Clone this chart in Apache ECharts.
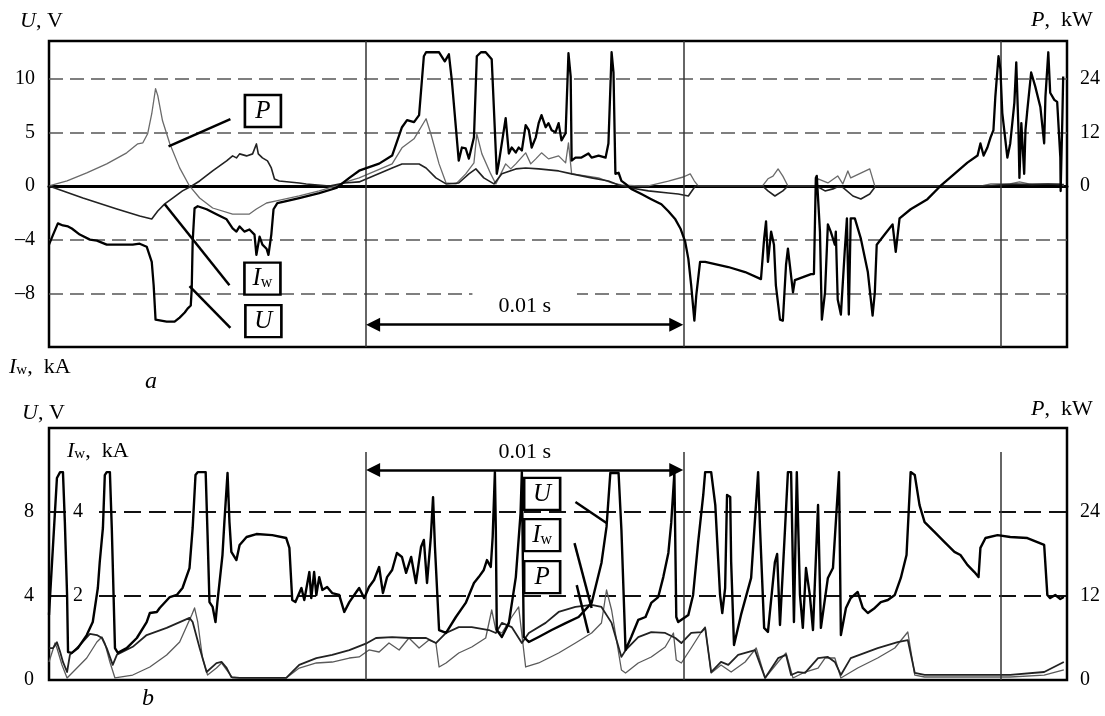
<!DOCTYPE html>
<html><head><meta charset="utf-8">
<script src="https://cdn.jsdelivr.net/npm/echarts@6/dist/echarts.min.js"></script>
<style>html,body{margin:0;padding:0;background:#fff}#c{width:1105px;height:716px}</style>
</head><body><div id="c"></div>
<script>
const FONT = '"Liberation Serif","Times New Roman",serif';
// time axis in ms; markers every 10 ms, arrow spans 0.01 s
const timeRange = [0, 32.1];
const markerTimes = [10, 20, 30];
const spanTimes = [10, 20];
const spanLabel = '0.01 s';

// ---------- panel a ----------  [t (ms), value]
const aU = [[0,-5.47],[0.13,-4.53],[0.28,-3.49],[0.44,-3.68],[0.60,-3.77],[0.72,-3.96],[0.97,-4.53],[1.29,-5.0],[1.51,-5.09],[1.82,-5.47],[2.23,-5.47],[2.64,-5.47],[2.86,-5.38],[3.08,-5.66],[3.24,-7.08],[3.30,-9.25],[3.36,-12.45],[3.71,-12.64],[3.96,-12.64],[4.12,-12.26],[4.28,-11.79],[4.37,-11.42],[4.47,-11.13],[4.50,-9.62],[4.53,-5.19],[4.59,-2.08],[4.69,-1.89],[4.97,-2.17],[5.28,-2.64],[5.60,-3.11],[5.79,-3.96],[5.91,-4.25],[6.01,-3.77],[6.16,-4.25],[6.32,-4.06],[6.48,-4.53],[6.54,-6.42],[6.64,-4.72],[6.73,-5.47],[6.86,-5.85],[6.92,-6.42],[7.01,-4.53],[7.08,-2.17],[7.20,-1.60],[7.48,-1.42],[7.89,-1.13],[8.52,-0.66],[9.06,-0.19],[9.47,0.75],[9.78,1.42],[10.41,2.08],[10.82,2.83],[11.13,5.47],[11.29,6.13],[11.51,5.94],[11.67,6.60],[11.82,12.08],[11.89,12.45],[12.30,12.45],[12.48,11.6],[12.61,12.26],[12.70,9.9],[12.92,2.36],[13.02,3.58],[13.14,3.49],[13.24,2.55],[13.40,4.53],[13.49,12.08],[13.62,12.45],[13.77,12.45],[13.96,11.79],[14.12,1.13],[14.18,2.08],[14.40,6.32],[14.50,3.02],[14.59,3.58],[14.72,3.11],[14.81,3.58],[14.91,3.30],[15.03,5.66],[15.13,5.19],[15.22,3.58],[15.35,4.53],[15.44,5.85],[15.53,6.60],[15.66,5.47],[15.75,5.85],[15.85,5.19],[15.97,5.0],[16.07,5.85],[16.16,4.25],[16.29,4.91],[16.38,12.36],[16.45,10.19],[16.48,2.36],[16.60,2.64],[16.79,2.64],[17.01,3.02],[17.11,2.64],[17.33,2.83],[17.55,2.64],[17.64,3.96],[17.74,12.45],[17.80,10.57],[17.86,1.13],[17.96,1.23],[18.05,0.47],[18.18,0.19],[18.36,-0.28],[18.68,-0.75],[18.99,-1.23],[19.31,-1.70],[19.53,-2.36],[19.75,-3.11],[19.91,-3.96],[20.06,-5.19],[20.16,-6.79],[20.25,-9.25],[20.35,-12.55],[20.41,-10.19],[20.53,-7.08],[20.69,-7.08],[21.42,-7.55],[21.95,-8.02],[22.45,-8.68],[22.55,-4.91],[22.61,-3.30],[22.67,-7.08],[22.77,-4.25],[22.86,-5.47],[22.92,-9.25],[23.05,-12.45],[23.14,-12.55],[23.24,-7.36],[23.30,-5.85],[23.36,-7.36],[23.46,-9.91],[23.52,-8.77],[24.03,-8.21],[24.12,-8.21],[24.18,0.75],[24.21,0.94],[24.31,-4.25],[24.37,-12.45],[24.47,-9.91],[24.56,-3.58],[24.65,-4.25],[24.78,-5.47],[24.81,-4.25],[24.87,-10.57],[24.97,-11.98],[25.09,-6.13],[25.16,-3.02],[25.22,-11.98],[25.28,-3.02],[25.41,-3.02],[25.60,-4.91],[25.82,-8.02],[25.97,-12.08],[26.04,-9.91],[26.10,-5.47],[26.35,-4.53],[26.60,-3.58],[26.70,-6.13],[26.82,-3.02],[27.17,-2.17],[27.70,-1.23],[28.11,0],[28.55,1.13],[28.96,2.17],[29.28,2.83],[29.37,3.96],[29.47,2.83],[29.59,3.58],[29.69,4.53],[29.78,5.19],[29.84,8.30],[29.94,12.08],[30.0,10.85],[30.06,6.79],[30.22,2.64],[30.31,3.96],[30.44,7.74],[30.50,11.51],[30.57,5.19],[30.60,0.75],[30.66,5.85],[30.75,1.13],[30.79,5.19],[30.85,7.08],[30.97,10.57],[31.10,9.25],[31.26,7.36],[31.38,3.96],[31.42,8.30],[31.51,12.45],[31.57,8.68],[31.70,8.02],[31.79,7.83],[31.89,2.64],[31.90,-0.47],[31.95,5.85],[31.98,10.19]];
const aI = [[0,0],[1.07,-0.90],[2.14,-1.72],[2.86,-2.24],[3.24,-2.46],[3.43,-1.87],[3.65,-1.34],[3.90,-0.90],[4.21,-0.37],[4.50,0],[4.75,0.37],[5.16,1.12],[5.60,1.87],[5.79,2.24],[5.91,2.09],[6.01,2.39],[6.23,2.24],[6.42,2.39],[6.54,3.13],[6.60,2.39],[6.73,2.09],[6.89,1.87],[7.01,1.34],[7.11,0.52],[7.26,0.37],[7.89,0.22],[8.11,0.15],[8.84,0],[9.31,0.22],[9.78,0.3],[10.82,1.34],[11.13,1.64],[11.67,1.64],[11.89,1.34],[12.20,0.60],[12.52,0.15],[12.92,0.22],[13.24,0.90],[13.46,1.27],[13.71,0.60],[14.03,0.15],[14.28,0.90],[14.72,1.27],[15.03,1.34],[15.44,1.27],[16.07,1.12],[16.48,0.90],[17.11,0.60],[17.64,0.37],[17.96,0.07],[18.36,-0.15],[18.9,-0.37],[19.53,-0.52],[19.84,-0.60],[20.16,-0.75],[20.38,0],[22.5,0],[22.67,-0.37],[22.89,-0.75],[23.14,-0.37],[23.3,0],[24.2,0],[24.47,-0.37],[24.72,-0.22],[24.87,-0.07],[25.03,-0.1],[25.35,-0.75],[25.6,-0.97],[25.88,-0.6],[26.07,0],[29.5,0],[29.9,0.07],[30.5,0.15],[31.0,0.1],[31.5,0.15],[31.9,0.1],[32,0.1]];
const aP = [[0,0],[0.57,1.12],[1.19,2.91],[1.82,4.93],[2.45,7.40],[2.80,9.42],[2.96,9.64],[3.11,11.66],[3.24,16.14],[3.36,21.75],[3.43,20.18],[3.58,14.57],[3.81,9.42],[4.12,4.04],[4.43,0],[4.75,-2.69],[5.16,-4.93],[5.79,-6.28],[6.32,-6.28],[6.54,-5.16],[6.86,-3.81],[7.17,-3.36],[7.89,-2.24],[8.52,-1.12],[9.06,0],[9.47,1.12],[9.78,1.79],[10.82,4.93],[11.13,8.52],[11.51,10.54],[11.89,15.02],[12.04,11.66],[12.30,4.93],[12.52,0.67],[12.83,0.45],[13.14,2.69],[13.40,5.16],[13.49,11.66],[13.65,7.17],[13.93,2.69],[14.09,0.45],[14.40,4.93],[14.56,3.81],[14.72,4.93],[15.03,7.40],[15.19,4.93],[15.35,6.05],[15.53,7.40],[15.75,6.05],[16.07,6.73],[16.29,5.16],[16.38,9.64],[16.48,2.69],[16.92,2.24],[17.33,1.79],[17.74,0.67],[18.05,0.22],[18.58,0],[18.9,0],[19.53,1.1],[20.0,2.0],[20.22,2.7],[20.35,1.1],[20.47,0],[22.5,0],[22.67,1.6],[22.83,2.2],[22.99,3.8],[23.14,2.2],[23.3,0],[24.18,0],[24.25,1.6],[24.56,0.67],[24.87,2.24],[25.03,0.45],[25.19,3.36],[25.28,1.79],[25.88,3.81],[26.04,0],[29.4,0],[29.7,0.45],[30.3,0.45],[30.6,0.9],[30.9,0.45],[31.5,0.45],[31.9,0.45],[32,0]];

// ---------- panel b ----------
const bU = [[0,3.10],[0.25,9.62],[0.35,9.90],[0.44,9.90],[0.50,7.52],[0.57,4.05],[0.60,1.33],[0.72,1.29],[0.91,1.52],[1.19,2.14],[1.38,2.76],[1.54,4.38],[1.60,5.62],[1.70,7.24],[1.76,9.76],[1.82,9.90],[1.92,9.90],[1.98,7.24],[2.08,1.52],[2.17,1.29],[2.45,1.52],[2.77,2.0],[3.08,2.76],[3.18,3.19],[3.40,3.24],[3.49,3.43],[3.81,3.95],[4.03,4.05],[4.21,4.38],[4.43,5.33],[4.53,7.24],[4.62,9.76],[4.69,9.90],[4.94,9.90],[5.0,6.90],[5.06,3.71],[5.16,3.48],[5.25,2.76],[5.31,3.71],[5.47,5.95],[5.53,7.52],[5.63,9.86],[5.69,7.52],[5.75,6.10],[5.91,5.71],[6.01,6.43],[6.23,6.81],[6.54,6.95],[7.04,6.90],[7.48,6.76],[7.58,6.29],[7.67,3.81],[7.77,3.71],[7.96,4.38],[8.05,3.81],[8.21,5.14],[8.27,3.90],[8.36,5.14],[8.43,4.05],[8.52,4.90],[8.62,4.29],[8.77,4.43],[8.93,4.14],[9.15,4.05],[9.31,3.24],[9.47,3.71],[9.69,4.19],[9.78,4.38],[9.94,3.90],[10.09,4.43],[10.25,4.76],[10.41,5.38],[10.53,4.14],[10.66,4.90],[10.82,5.24],[10.97,6.05],[11.13,5.86],[11.26,5.10],[11.42,5.86],[11.57,4.62],[11.73,6.33],[11.82,6.67],[11.92,4.62],[12.04,6.81],[12.11,8.71],[12.17,6.33],[12.30,2.38],[12.52,2.24],[12.83,3.0],[13.14,3.67],[13.40,4.62],[13.55,4.90],[13.71,5.24],[13.81,5.71],[13.93,5.38],[13.99,6.81],[14.06,9.90],[14.09,7.14],[14.12,2.38],[14.28,2.05],[14.50,2.71],[14.72,4.90],[14.87,7.95],[14.91,9.90],[14.94,9.90],[14.97,2.05],[15.13,1.81],[15.44,2.05],[15.85,2.38],[16.29,2.71],[16.70,3.0],[17.11,3.67],[17.42,5.57],[17.58,7.29],[17.70,9.86],[17.96,9.86],[18.05,7.14],[18.18,1.43],[18.36,2.05],[18.58,2.86],[18.81,3.0],[18.99,3.67],[19.21,3.95],[19.37,4.90],[19.53,6.05],[19.62,7.48],[19.72,9.86],[19.78,3.0],[19.84,2.76],[20.16,3.10],[20.31,4.05],[20.47,6.57],[20.63,8.81],[20.69,9.90],[20.88,9.90],[21.01,8.33],[21.16,4.05],[21.23,3.19],[21.32,4.38],[21.38,8.81],[21.48,8.71],[21.51,5.62],[21.60,1.67],[21.82,3.10],[22.14,4.86],[22.36,9.90],[22.42,7.24],[22.55,2.48],[22.67,2.29],[22.89,5.62],[22.96,6.0],[23.05,2.62],[23.21,7.24],[23.30,9.90],[23.40,9.90],[23.49,2.76],[23.58,9.90],[23.68,4.05],[23.77,2.48],[23.87,5.33],[23.99,4.05],[24.09,2.38],[24.25,8.33],[24.34,2.48],[24.40,2.48],[24.56,4.86],[24.72,5.33],[24.91,9.90],[24.97,2.14],[25.13,3.43],[25.28,3.90],[25.50,4.19],[25.66,3.43],[25.82,3.19],[26.04,3.43],[26.23,3.71],[26.45,3.81],[26.67,4.05],[26.86,4.86],[27.04,5.95],[27.17,9.90],[27.30,9.76],[27.45,8.33],[27.61,7.52],[27.92,7.05],[28.24,6.57],[28.55,6.10],[28.74,5.95],[28.96,5.48],[29.18,5.14],[29.31,4.90],[29.37,6.29],[29.53,6.76],[29.91,6.90],[30.31,6.81],[30.85,6.76],[31.38,6.43],[31.48,4.05],[31.57,3.90],[31.73,4.05],[31.89,3.86],[32.0,3.95]];
const bI = [[0,0.76],[0.13,0.76],[0.25,0.90],[0.35,0.67],[0.44,0.43],[0.57,0.19],[0.66,0.60],[0.97,0.83],[1.29,1.10],[1.51,1.07],[1.67,1.0],[1.82,0.76],[2.01,0.36],[2.14,0.60],[2.64,0.79],[3.08,1.07],[3.71,1.24],[4.43,1.48],[4.53,1.38],[4.75,0.76],[4.97,0.19],[5.28,0.40],[5.44,0.43],[5.60,0.29],[5.75,0.07],[6.01,0.05],[7.48,0.05],[7.89,0.36],[8.43,0.52],[8.93,0.60],[9.47,0.71],[10.03,0.88],[10.31,1.0],[10.82,1.02],[11.35,1.0],[11.89,1.0],[12.20,0.88],[12.52,1.12],[12.92,1.26],[13.33,1.26],[13.87,1.19],[14.09,1.12],[14.28,1.36],[14.59,1.26],[14.91,0.88],[15.13,1.12],[15.66,1.36],[16.07,1.62],[16.60,1.74],[17.11,1.79],[17.42,1.74],[17.74,1.36],[18.05,0.55],[18.18,0.71],[18.58,1.02],[18.99,1.14],[19.43,1.12],[19.75,1.0],[19.94,0.88],[20.25,1.12],[20.57,1.14],[20.69,1.24],[20.88,0.19],[21.19,0.43],[21.42,0.36],[21.73,0.60],[22.26,0.71],[22.58,0.05],[22.99,0.52],[23.24,0.60],[23.40,0.12],[23.62,0.19],[23.84,0.17],[24.25,0.52],[24.56,0.55],[24.78,0.43],[24.97,0.12],[25.28,0.52],[26.13,0.76],[26.76,0.90],[27.08,0.95],[27.30,0.17],[27.61,0.12],[30.31,0.12],[31.38,0.19],[32.0,0.43]];
const bP = [[0,2.57],[0.19,5.29],[0.25,4.57],[0.41,2.14],[0.57,0.29],[0.88,1.71],[1.19,3.14],[1.51,5.43],[1.67,6.14],[1.76,5.29],[1.92,2.57],[2.08,0.29],[2.64,0.71],[3.18,1.86],[3.71,3.57],[4.12,5.43],[4.50,9.29],[4.59,10.29],[4.69,8.29],[4.84,3.14],[5.0,0.71],[5.28,1.71],[5.44,2.43],[5.60,1.43],[5.79,0.29],[7.48,0.29],[7.89,1.71],[8.43,2.43],[8.93,2.57],[9.47,3.14],[9.78,3.29],[10.09,4.29],[10.41,4.0],[10.72,5.29],[11.04,4.29],[11.35,6.0],[11.67,4.57],[11.98,5.71],[12.20,5.29],[12.30,1.86],[12.52,2.43],[12.92,3.86],[13.33,4.71],[13.77,6.0],[13.96,10.0],[14.09,7.14],[14.28,6.71],[14.59,9.0],[14.81,10.43],[15.03,1.86],[15.44,2.43],[16.07,3.86],[16.60,5.29],[17.11,6.71],[17.42,8.14],[17.58,12.86],[17.74,10.0],[18.05,1.43],[18.18,1.0],[18.58,2.43],[18.99,3.29],[19.43,4.71],[19.69,6.71],[19.78,2.86],[19.94,2.43],[20.25,4.57],[20.57,6.86],[20.69,7.57],[20.88,1.0],[21.19,2.14],[21.51,1.14],[21.95,2.57],[22.30,4.57],[22.58,0.29],[22.99,2.57],[23.24,3.86],[23.46,0.29],[23.84,1.14],[24.25,1.71],[24.47,3.14],[24.78,3.14],[24.97,0.29],[25.50,1.71],[26.13,3.14],[26.67,4.57],[27.08,6.86],[27.30,0.71],[27.61,0.43],[30.31,0.43],[31.38,0.71],[32.0,1.43]];

// axis ranges (U in V, I in kA, P in kW)
const aRangeU = [-15, 13.5], aRangeI = [-12, 10.8], aRangeP = [-36, 32.4];
const bRangeU = [0, 12], bRangeI = [0, 6], bRangeP = [0, 36];
const kAperV = 4 / 5;

const GRID_W = 1105 - 49 - 38;
const ARROW = 14;
const tipShift = (ARROW / 2) * (timeRange[1] - timeRange[0]) / GRID_W;

const rich = {
  i: {fontFamily: FONT, fontStyle: 'italic', fontSize: 22, lineHeight: 22, verticalAlign: 'bottom', color: '#000'},
  s: {fontFamily: FONT, fontSize: 15, lineHeight: 15, verticalAlign: 'bottom', color: '#000'},
  n: {fontFamily: FONT, fontSize: 22, lineHeight: 22, verticalAlign: 'bottom', color: '#000'}
};
const boxRich = {
  i: {fontFamily: FONT, fontStyle: 'italic', fontSize: 25, lineHeight: 25, verticalAlign: 'bottom', color: '#000'},
  s: {fontFamily: FONT, fontSize: 16, lineHeight: 16, verticalAlign: 'bottom', color: '#000'}
};
function box(coord, txt) {
  return {coord, symbol: 'rect', symbolSize: [36, 32],
    itemStyle: {color: '#fff', borderColor: '#000', borderWidth: 2.5},
    label: {show: true, position: 'inside', formatter: txt, rich: boxRich}};
}
function seg(a, b) { return [{coord: a}, {coord: b}]; }
function arrow(y) {
  return [{coord: [spanTimes[0] + tipShift, y], symbol: 'triangle', symbolSize: ARROW,
      lineStyle: {width: 2.5, color: '#000'},
      label: {show: true, position: 'insideMiddleTop', formatter: spanLabel, fontFamily: FONT, fontSize: 22,
        color: '#000', backgroundColor: '#fff', padding: [6, 26, 2, 26], distance: 5}},
    {coord: [spanTimes[1] - tipShift, y], symbol: 'triangle', symbolSize: ARROW}];
}
const lbl = {fontFamily: FONT, fontSize: 20, color: '#000'};
const sp = '\u2002';

const chart = echarts.init(document.getElementById('c'), null, {renderer: 'canvas'});
chart.setOption({
  animation: false,
  backgroundColor: '#fff',
  grid: [
    {left: 49, right: 38, top: 41, height: 306, show: true, borderColor: '#000', borderWidth: 2.5},
    {left: 49, right: 38, top: 428, height: 252, show: true, borderColor: '#000', borderWidth: 2.5}
  ],
  xAxis: [
    {gridIndex: 0, type: 'value', min: timeRange[0], max: timeRange[1], axisLine: {onZero: true, lineStyle: {color: '#000', width: 3}},
      axisTick: {show: false}, axisLabel: {show: false}, splitLine: {show: false}},
    {gridIndex: 1, type: 'value', min: timeRange[0], max: timeRange[1], axisLine: {show: false},
      axisTick: {show: false}, axisLabel: {show: false}, splitLine: {show: false}}
  ],
  yAxis: [
    {gridIndex: 0, type: 'value', position: 'left', min: aRangeU[0], max: aRangeU[1], interval: 5,
      axisLine: {show: false}, axisTick: {show: false},
      axisLabel: Object.assign({margin: 14, formatter: v => {
        if (v === 0) return '0';
        if (v > 0 && v < aRangeU[1]) return String(v);
        if (v < 0 && v > aRangeU[0]) return '\u2013' + Math.round(-v * kAperV);
        return '';
      }}, lbl),
      splitLine: {show: true, showMinLine: false, showMaxLine: false, lineStyle: {type: [14, 7], color: '#555', width: 1.5}}},
    {gridIndex: 0, type: 'value', show: false, min: aRangeI[0], max: aRangeI[1]},
    {gridIndex: 0, type: 'value', position: 'right', min: aRangeP[0], max: aRangeP[1], interval: 12,
      axisLine: {show: false}, axisTick: {show: false}, splitLine: {show: false},
      axisLabel: Object.assign({margin: 13, formatter: v => (v >= 0 && v < aRangeP[1]) ? String(v) : ''}, lbl)},
    {gridIndex: 1, type: 'value', position: 'left', min: bRangeU[0], max: bRangeU[1], interval: 4,
      axisLine: {show: false}, axisTick: {show: false},
      axisLabel: Object.assign({margin: 15, formatter: v => v < bRangeU[1] ? String(v) : ''}, lbl),
      splitLine: {show: true, showMinLine: false, showMaxLine: false, lineStyle: {type: [17, 8], color: '#111', width: 2}}},
    {gridIndex: 1, type: 'value', position: 'left', min: bRangeI[0], max: bRangeI[1], interval: 2, z: 5,
      axisLine: {show: false}, axisTick: {show: false}, splitLine: {show: false},
      axisLabel: {inside: true, margin: 21,
        formatter: v => (v > 0 && v < bRangeI[1]) ? '{b|' + v + '}' : '',
        rich: {b: Object.assign({backgroundColor: '#fff', padding: [4, 12, 4, 3]}, lbl)}}},
    {gridIndex: 1, type: 'value', position: 'right', min: bRangeP[0], max: bRangeP[1], interval: 12,
      axisLine: {show: false}, axisTick: {show: false}, splitLine: {show: false},
      axisLabel: Object.assign({margin: 13, formatter: v => v < bRangeP[1] ? String(v) : ''}, lbl)}
  ],
  series: [
    {name: 'P a', type: 'line', xAxisIndex: 0, yAxisIndex: 2, data: aP, showSymbol: false, z: 3,
      lineStyle: {color: '#6a6a6a', width: 1.3, join: 'round'}},
    {name: 'Iw a', type: 'line', xAxisIndex: 0, yAxisIndex: 1, data: aI, showSymbol: false, z: 4,
      lineStyle: {color: '#222', width: 1.6, join: 'round'}},
    {name: 'U a', type: 'line', xAxisIndex: 0, yAxisIndex: 0, data: aU, showSymbol: false, z: 5,
      lineStyle: {color: '#000', width: 2.3, join: 'round'},
      markLine: {silent: true, animation: false, symbol: 'none', label: {show: false},
        lineStyle: {color: '#000', type: 'solid', width: 2.5},
        data: markerTimes.map(t => ({xAxis: t, lineStyle: {color: '#333', width: 1.5, type: 'solid'}}))
          .concat([arrow(-12.92),
            seg([5.72, 6.23], [3.77, 3.68]),
            seg([5.69, -9.25], [3.65, -1.70]),
            seg([5.72, -13.21], [4.43, -9.34])])},
      markPoint: {silent: true, animation: false,
        data: [box([6.745, 6.98], '{i|P}'), box([6.73, -8.63], '{i|I}{s|w}'), box([6.76, -12.59], '{i|U}')]}},
    {name: 'P b', type: 'line', xAxisIndex: 1, yAxisIndex: 5, data: bP, showSymbol: false, z: 3,
      lineStyle: {color: '#5a5a5a', width: 1.3, join: 'round'}},
    {name: 'Iw b', type: 'line', xAxisIndex: 1, yAxisIndex: 4, data: bI, showSymbol: false, z: 4,
      lineStyle: {color: '#222', width: 1.8, join: 'round'}},
    {name: 'U b', type: 'line', xAxisIndex: 1, yAxisIndex: 3, data: bU, showSymbol: false, z: 5,
      lineStyle: {color: '#000', width: 2.4, join: 'round'},
      markLine: {silent: true, animation: false, symbol: 'none', label: {show: false},
        lineStyle: {color: '#000', type: 'solid', width: 2.5},
        data: markerTimes.map(t => [{coord: [t, 0], lineStyle: {color: '#333', width: 1.5}}, {coord: [t, 10.86]}])
          .concat([arrow(10.0),
            seg([16.60, 8.48], [17.58, 7.48]),
            seg([16.57, 6.52], [17.11, 3.43]),
            seg([16.64, 4.52], [17.01, 2.24])])},
      markPoint: {silent: true, animation: false,
        data: [box([15.55, 8.86], '{i|U}'), box([15.55, 6.90], '{i|I}{s|w}'), box([15.55, 4.90], '{i|P}')]}}
  ],
  graphic: [
    {type: 'text', x: 20, y: 21, style: {text: '{i|U}{n|, V}', rich, verticalAlign: 'middle'}},
    {type: 'text', x: 1031, y: 20, style: {text: '{i|P}{n|,' + sp + 'kW}', rich, verticalAlign: 'middle'}},
    {type: 'text', x: 9, y: 367, style: {text: '{i|I}{s|w}{n|,' + sp + 'kA}', rich, verticalAlign: 'middle'}},
    {type: 'text', x: 151, y: 382, style: {text: 'a', fontFamily: FONT, fontStyle: 'italic', fontSize: 24, fill: '#000', align: 'center', verticalAlign: 'middle'}},
    {type: 'text', x: 22, y: 413, style: {text: '{i|U}{n|, V}', rich, verticalAlign: 'middle'}},
    {type: 'text', x: 1031, y: 409, style: {text: '{i|P}{n|,' + sp + 'kW}', rich, verticalAlign: 'middle'}},
    {type: 'text', x: 67, y: 451, style: {text: '{i|I}{s|w}{n|,' + sp + 'kA}', rich, verticalAlign: 'middle'}},
    {type: 'text', x: 148, y: 699, style: {text: 'b', fontFamily: FONT, fontStyle: 'italic', fontSize: 24, fill: '#000', align: 'center', verticalAlign: 'middle'}}
  ]
});
</script></body></html>
